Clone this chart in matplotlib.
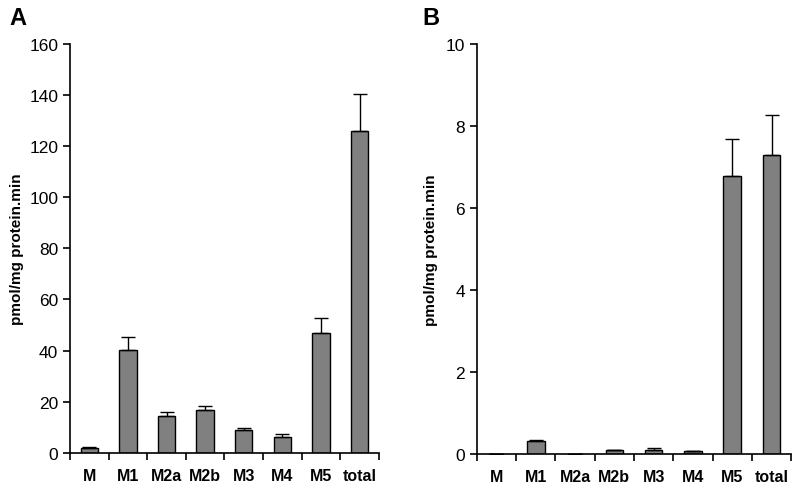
import matplotlib
matplotlib.use('Agg')
import matplotlib.pyplot as plt
import numpy as np

plt.rcParams['font.family'] = ['Liberation Sans', 'DejaVu Sans']

categorias = ['M', 'M1', 'M2a', 'M2b', 'M3', 'M4', 'M5', 'total']

# painel A
valores_a = [1.7, 40.2, 14.4, 16.9, 8.8, 6.3, 46.8, 126.1]
erros_a = [0.4, 5.0, 1.4, 1.6, 1.0, 1.0, 6.0, 14.2]

# painel B
valores_b = [0.0, 0.30, 0.0, 0.10, 0.10, 0.06, 6.77, 7.29]
erros_b = [0.0, 0.03, 0.0, 0.0, 0.03, 0.0, 0.92, 0.98]


def painel(ax, valores, erros, ymax, passo):
    x = np.arange(len(categorias))
    ax.bar(x, valores, 0.45, color='#808080', edgecolor='black', linewidth=1.0, zorder=2)
    ax.errorbar(x, valores, yerr=[np.zeros(len(erros)), erros], fmt='none',
                ecolor='black', elinewidth=1.0, capsize=5, capthick=1.0, zorder=3)
    ax.set_xlim(-0.5, len(categorias) - 0.5)
    ax.set_ylim(0, ymax)
    ax.set_yticks(np.arange(0, ymax + passo / 2, passo))
    ax.set_xticks(x)
    ax.set_xticklabels(categorias, fontweight='bold', fontsize=11.5)
    ax.set_xticks(np.arange(-0.5, len(categorias), 1), minor=True)
    ax.tick_params(axis='x', which='major', length=0, pad=11)
    ax.tick_params(axis='x', which='minor', length=5, width=1.2, direction='out')
    ax.tick_params(axis='y', length=5, width=1.2, labelsize=12.5, direction='out')
    ax.spines['top'].set_visible(False)
    ax.spines['right'].set_visible(False)
    ax.spines['left'].set_linewidth(1.2)
    ax.spines['bottom'].set_linewidth(1.2)
    ax.set_ylabel('pmol/mg protein.min', fontweight='bold', fontsize=11)


fig = plt.figure(figsize=(8, 4.89), dpi=100)
ax1 = fig.add_axes([0.0875, 0.072, 0.386, 0.836])
ax2 = fig.add_axes([0.596, 0.070, 0.393, 0.838])

painel(ax1, valores_a, erros_a, 160, 20)
painel(ax2, valores_b, erros_b, 10, 2)
ax1.yaxis.set_label_coords(-0.15, 0.5)
ax2.yaxis.set_label_coords(-0.122, 0.5)

fig.text(0.012, 0.963, 'A', fontsize=17, fontweight='bold', va='center')
fig.text(0.528, 0.963, 'B', fontsize=17, fontweight='bold', va='center')

fig.savefig('out.png', dpi=100)
